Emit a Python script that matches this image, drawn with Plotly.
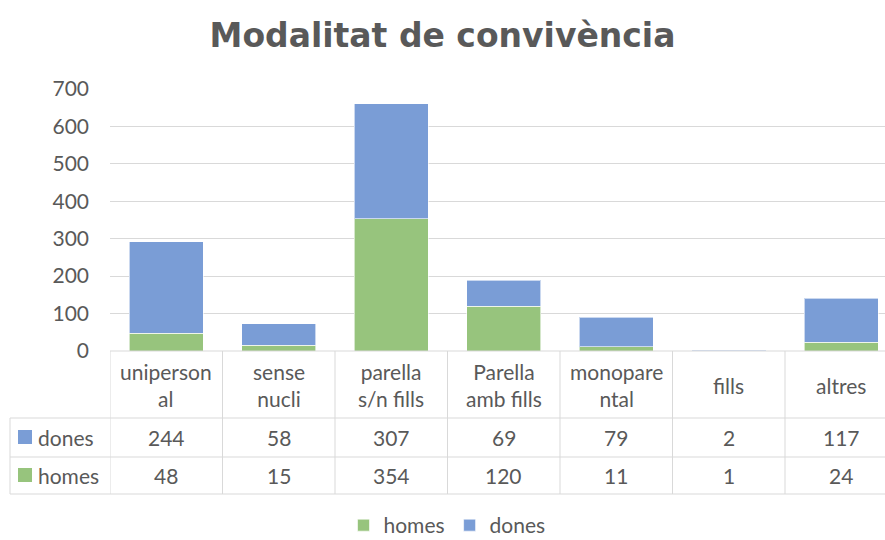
import plotly.graph_objects as go

categories = ["uniperson<br>al", "sense<br>nucli", "parella<br>s/n fills", "Parella<br>amb fills",
              "monopare<br>ntal", "fills", "altres"]
homes = [48, 15, 354, 120, 11, 1, 24]
dones = [244, 58, 307, 69, 79, 2, 117]
y_ticks = [0, 100, 200, 300, 400, 500, 600, 700]
title_text = "Modalitat de convivència"

GREEN = "#97C47D"
BLUE = "#7A9DD6"
TXT = "#595959"
GRID = "#D9D9D9"
FONT = "Lato"
FS = 21

W, H = 885, 540
L, R, T, B = 110, 0, 89, 189
cat_px = 112.5
xs = list(range(len(categories)))
x0 = -0.5
x1 = x0 + (W - L - R) / cat_px

def py(p):  # pixel y -> paper
    return (H - B - p) / (H - T - B)

def px(p):  # pixel x -> paper
    return (p - L) / (W - L - R)

fig = go.Figure()
fig.add_bar(x=xs, y=homes, name="homes", marker=dict(color=GREEN, line=dict(color="rgba(255,255,255,0.6)", width=1)), width=0.66)
fig.add_bar(x=xs, y=dones, name="dones", marker=dict(color=BLUE, line=dict(color="rgba(255,255,255,0.6)", width=1)), width=0.66)

shapes = []
line = dict(color=GRID, width=1)
shapes.append(dict(type="line", xref="paper", yref="paper", x0=0, x1=1, y0=py(351), y1=py(351), line=line))
for yy in [418, 457, 494]:
    shapes.append(dict(type="line", xref="paper", yref="paper", x0=px(10), x1=1, y0=py(yy), y1=py(yy), line=line))
for i in range(len(categories)):
    xb = i - 0.5
    shapes.append(dict(type="line", xref="x", yref="paper", x0=xb, x1=xb, y0=py(351), y1=py(494), line=line))
shapes.append(dict(type="line", xref="paper", yref="paper", x0=px(10), x1=px(10), y0=py(418), y1=py(494), line=line))
shapes.append(dict(type="rect", xref="paper", yref="paper", x0=px(18), x1=px(32), y0=py(444), y1=py(430),
                   fillcolor=BLUE, line=dict(width=0)))
shapes.append(dict(type="rect", xref="paper", yref="paper", x0=px(18), x1=px(32), y0=py(482), y1=py(468),
                   fillcolor=GREEN, line=dict(width=0)))

ann = []
tf = dict(family=FONT, size=FS, color=TXT)
for i, c in enumerate(categories):
    ann.append(dict(x=i, y=py(385), xref="x", yref="paper", text=c, showarrow=False, font=tf,
                    xanchor="center", yanchor="middle"))
    ann.append(dict(x=i, y=py(437), xref="x", yref="paper", text=str(dones[i]), showarrow=False, font=tf,
                    xanchor="center", yanchor="middle"))
    ann.append(dict(x=i, y=py(475), xref="x", yref="paper", text=str(homes[i]), showarrow=False, font=tf,
                    xanchor="center", yanchor="middle"))
ann.append(dict(x=px(36), y=py(437), xref="paper", yref="paper", text="dones", showarrow=False, font=tf,
                xanchor="left", yanchor="middle"))
ann.append(dict(x=px(36), y=py(475), xref="paper", yref="paper", text="homes", showarrow=False, font=tf,
                xanchor="left", yanchor="middle"))

fig.update_layout(
    width=W, height=H,
    margin=dict(l=L, r=R, t=T, b=B, autoexpand=False),
    barmode="stack",
    plot_bgcolor="white", paper_bgcolor="white",
    title=dict(text=title_text, x=0.5, xanchor="center", y=1 - 35 / H, yanchor="middle",
               font=dict(family="DejaVu Sans", size=33, color=TXT, weight="bold")),
    xaxis=dict(range=[x0, x1], showticklabels=False, showgrid=False, zeroline=False, showline=False),
    yaxis=dict(range=[0, 700], tickvals=y_ticks, gridcolor=GRID, gridwidth=1, zeroline=False,
               tickfont=dict(family=FONT, size=FS, color=TXT), ticklabelstandoff=20, showline=False),
    legend=dict(orientation="h", x=px(447), xanchor="center",
                y=py(546), yanchor="bottom", font=dict(family=FONT, size=FS, color=TXT), traceorder="normal"),
    shapes=shapes, annotations=ann,
)

fig.write_html("out.html", config={"displayModeBar": False},
               post_script="document.body.style.margin='0';document.body.style.overflow='hidden';")
